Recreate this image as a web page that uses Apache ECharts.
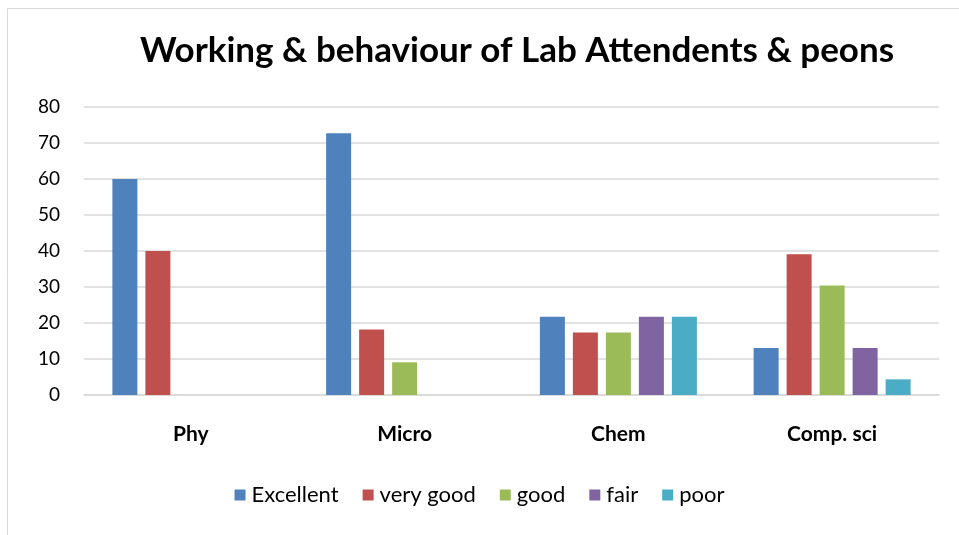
<!DOCTYPE html>
<html>
<head>
<meta charset="utf-8">
<script src="https://cdn.jsdelivr.net/npm/echarts@6/dist/echarts.min.js"></script>
<style>
    html, body { margin: 0; padding: 0; background: #fff; }
    #chart { width: 959px; height: 535px; }
</style>
</head>
<body>
<div id="chart"></div>
<script>
    // data (percent of respondents)
    var categories = ['Phy', 'Micro', 'Chem', 'Comp. sci'];
    var seriesNames = ['Excellent', 'very good', 'good', 'fair', 'poor'];
    var excellent = [60, 72.73, 21.74, 13.04];
    var veryGood = [40, 18.18, 17.39, 39.13];
    var good = [0, 9.09, 17.39, 30.43];
    var fair = [0, 0, 21.74, 13.04];
    var poor = [0, 0, 21.74, 4.35];
    var yTicks = [0, 10, 20, 30, 40, 50, 60, 70, 80];

    var colors = ['#4F81BD', '#C0504D', '#9BBB59', '#8064A2', '#4BACC6'];
    var values = [excellent, veryGood, good, fair, poor];
    var font = 'Lato, "Open Sans", sans-serif';

    var series = [];
    for (var i = 0; i < seriesNames.length; i++) {
        series.push({
            name: seriesNames[i],
            type: 'bar',
            data: values[i],
            barWidth: 25,
            barGap: '32%',
            itemStyle: { color: colors[i] }
        });
    }

    var myChart = echarts.init(document.getElementById('chart'));
    myChart.setOption({
        animation: false,
        color: colors,
        title: {
            text: 'Working & behaviour of Lab Attendents & peons',
            left: 512,
            textAlign: 'center',
            top: 28,
            textStyle: { fontFamily: font, fontWeight: 'bold', fontSize: 35, color: '#000' }
        },
        graphic: [{
            type: 'rect',
            shape: { x: 7.5, y: 8.5, width: 960, height: 540 },
            style: { fill: 'none', stroke: '#d9d9d9', lineWidth: 1 }
        }],
        legend: {
            data: seriesNames,
            bottom: 24,
            left: 'center',
            itemWidth: 11,
            itemHeight: 11,
            itemGap: 24,
            icon: 'rect',
            textStyle: { fontFamily: font, fontSize: 22, color: '#000', padding: [0, 0, 0, 1] }
        },
        grid: { left: 84, right: 20, top: 107, bottom: 140 },
        xAxis: {
            type: 'category',
            data: categories,
            axisLine: { lineStyle: { color: '#d9d9d9', width: 1.5 } },
            axisTick: { show: false },
            axisLabel: { fontFamily: font, fontWeight: 'bold', fontSize: 21, color: '#000', margin: 29 }
        },
        yAxis: {
            type: 'value',
            min: yTicks[0],
            max: yTicks[yTicks.length - 1],
            interval: 10,
            axisLine: { show: false },
            axisTick: { show: false },
            splitLine: { lineStyle: { color: '#d9d9d9', width: 1.5 } },
            axisLabel: { fontFamily: font, fontSize: 19, color: '#000', margin: 24 }
        },
        series: series
    });
</script>
</body>
</html>
